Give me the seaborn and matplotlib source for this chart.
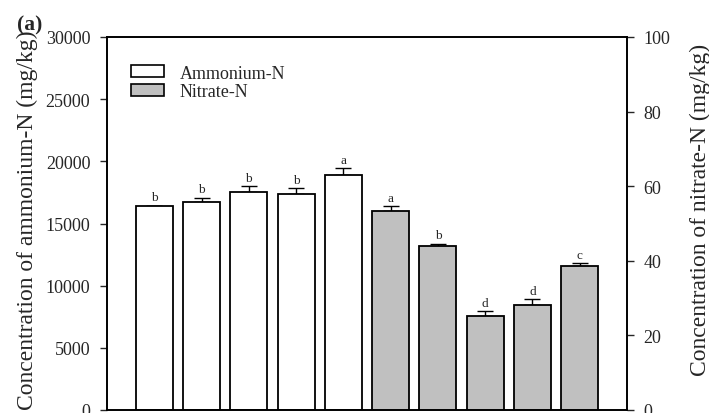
import numpy as np
import pandas as pd
import matplotlib
matplotlib.use("Agg")
import matplotlib.pyplot as plt
import seaborn as sns
from matplotlib.patches import Patch

# values
amm_pos = [0, 1, 2, 3, 4]
amm_vals = [16370, 16750, 17560, 17400, 18930]
amm_err = [60, 330, 430, 430, 510]
amm_letters = ["b", "b", "b", "b", "a"]

nit_pos = [5, 6, 7, 8, 9]
nit_vals = [53.4, 44.0, 25.1, 28.2, 38.6]
nit_err = [1.2, 0.6, 1.4, 1.6, 0.7]
nit_letters = ["a", "b", "d", "d", "c"]

sns.set_style("ticks")
plt.rcParams["font.family"] = ["Liberation Serif", "DejaVu Serif"]

fig = plt.figure(figsize=(7.09, 4.14), dpi=100)
ax = fig.add_axes([107 / 709, 3 / 414, 520 / 709, 373 / 414])
ax2 = ax.twinx()

amm_df = pd.DataFrame({"pos": amm_pos, "val": amm_vals})
nit_df = pd.DataFrame({"pos": nit_pos, "val": nit_vals})

sns.barplot(data=amm_df, x="pos", y="val", native_scale=True, width=0.78,
            color="white", edgecolor="black", linewidth=1.3, errorbar=None, ax=ax)
sns.barplot(data=nit_df, x="pos", y="val", native_scale=True, width=0.78,
            color="#c0c0c0", edgecolor="black", linewidth=1.3, errorbar=None, ax=ax2)
for p in ax.patches + ax2.patches:
    p.set_facecolor(p.get_facecolor()[:3] + (1,))
    p.set_zorder(2)

ax.errorbar(amm_pos, amm_vals, yerr=[np.zeros(5), amm_err], fmt="none",
            ecolor="black", elinewidth=1, capsize=5.5, capthick=1, zorder=1)
ax2.errorbar(nit_pos, nit_vals, yerr=[np.zeros(5), nit_err], fmt="none",
             ecolor="black", elinewidth=1, capsize=5.5, capthick=1, zorder=1)

for x, v, e, t in zip(amm_pos, amm_vals, amm_err, amm_letters):
    ax.text(x, v + e + 200, t, ha="center", va="bottom", fontsize=9.5)
for x, v, e, t in zip(nit_pos, nit_vals, nit_err, nit_letters):
    ax2.text(x, v + e + 0.6, t, ha="center", va="bottom", fontsize=9.5)

ax.set_xlim(-1, 10)
ax.set_ylim(0, 30000)
ax2.set_ylim(0, 100)
ax.set_yticks(range(0, 30001, 5000))
ax2.set_yticks(range(0, 101, 20))
ax.set_xticks([])
ax.set_xlabel("")
ax2.set_xlabel("")
ax.set_ylabel("Concentration of ammonium-N (mg/kg)", fontsize=17)
ax2.set_ylabel("Concentration of nitrate-N (mg/kg)", fontsize=17)
ax.yaxis.set_label_coords(-0.133, 0.512)
ax2.yaxis.set_label_coords(1.121, 0.539)
ax.tick_params(axis="y", labelsize=13, length=5, width=1, direction="out", pad=7)
ax2.tick_params(axis="y", labelsize=13, length=5, width=1, direction="out", pad=7)
for a in (ax, ax2):
    for s in a.spines.values():
        s.set_visible(True)
        s.set_linewidth(1.2)
        s.set_color("black")

handles = [Patch(facecolor="white", edgecolor="black", linewidth=1.2, label="Ammonium-N"),
           Patch(facecolor="#c0c0c0", edgecolor="black", linewidth=1.2, label="Nitrate-N")]
ax.legend(handles=handles, loc="upper left", bbox_to_anchor=(0.025, 0.955), frameon=False,
          fontsize=13, handlelength=1.83, handleheight=0.61, handletextpad=0.88,
          labelspacing=0.1, borderaxespad=0.2)

fig.text(17 / 709, 1 - 25 / 414, "(a)", fontsize=15.5, fontweight="bold", va="center")

fig.savefig("out.png", dpi=100)
